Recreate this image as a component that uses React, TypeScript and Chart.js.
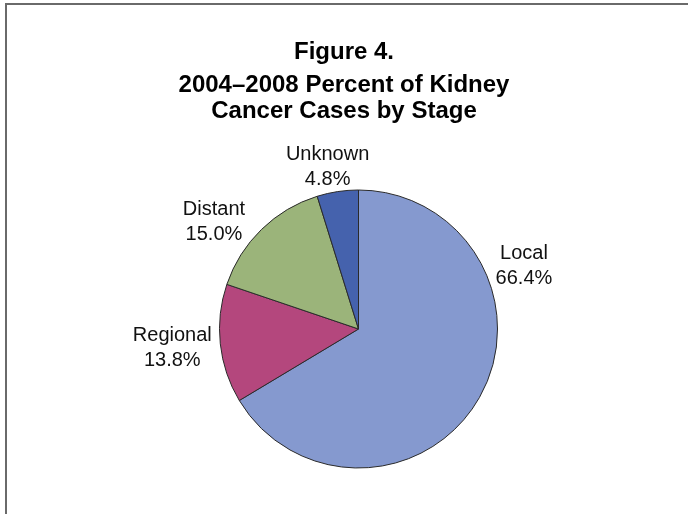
import React, { useEffect, useRef } from "react";
import { Chart, registerables } from "chart.js";

Chart.register(...registerables);

// ---- data ----
const categories = ["Local", "Regional", "Distant", "Unknown"];
const percentValues = [66.4, 13.8, 15.0, 4.8];
const titleLines = ["Figure 4.", "2004\u20132008 Percent of Kidney", "Cancer Cases by Stage"];

// ---- style / layout ----
const sliceColors = ["#8599CF", "#B4477D", "#9BB47A", "#4562AD"];
const labelOffsets: [number, number][] = [
  [44.5, -132],
  [-48, 3.7],
  [-47.5, -8],
  [-10, -24.5],
];
const titleCentersY = [52, 85, 111];
const FONT = "Arial, 'Liberation Sans', sans-serif";

const labelPlugin = {
  id: "sliceLabels",
  afterDatasetsDraw(chart: any) {
    const ctx = chart.ctx;
    const meta = chart.getDatasetMeta(0);
    ctx.save();
    ctx.font = `20px ${FONT}`;
    ctx.fillStyle = "#111";
    ctx.textAlign = "center";
    ctx.textBaseline = "middle";
    meta.data.forEach((arc: any, i: number) => {
      const p = arc.getProps(["x", "y", "startAngle", "endAngle", "outerRadius"], true);
      const mid = (p.startAngle + p.endAngle) / 2;
      const ex = p.x + Math.cos(mid) * p.outerRadius;
      const ey = p.y + Math.sin(mid) * p.outerRadius;
      const cx = ex + labelOffsets[i][0];
      const cy = ey + labelOffsets[i][1];
      ctx.fillText(categories[i], cx, cy - 12.5);
      ctx.fillText(percentValues[i].toFixed(1) + "%", cx, cy + 12.5);
    });
    ctx.restore();
  },
};

const titlePlugin = {
  id: "figTitle",
  afterDraw(chart: any) {
    const ctx = chart.ctx;
    ctx.save();
    ctx.font = `bold 24px ${FONT}`;
    ctx.fillStyle = "#000";
    ctx.textAlign = "center";
    ctx.textBaseline = "middle";
    titleLines.forEach((t, i) => ctx.fillText(t, chart.width / 2, titleCentersY[i]));
    ctx.restore();
  },
};

export default function App() {
  const ref = useRef<HTMLCanvasElement>(null);
  useEffect(() => {
    if (!ref.current) return;
    const chart = new Chart(ref.current, {
      type: "pie",
      data: {
        labels: categories,
        datasets: [
          {
            data: percentValues,
            backgroundColor: sliceColors,
            borderColor: "#2a2a2a",
            borderWidth: 1,
          },
        ],
      },
      options: {
        responsive: false,
        animation: false,
        radius: 139,
        layout: { padding: { left: 29, right: 0, top: 144, bottom: 0 } },
        plugins: {
          legend: { display: false },
          tooltip: { enabled: false },
          title: { display: false },
        },
      } as any,
      plugins: [labelPlugin, titlePlugin],
    });
    return () => chart.destroy();
  }, []);

  return (
    <div style={{ position: "fixed", left: 0, top: 0, width: 688, height: 514, background: "#fff", overflow: "hidden" }}>
      <canvas ref={ref} width={688} height={514} style={{ position: "absolute", left: 0, top: 0 }} />
      <div
        style={{
          position: "absolute",
          left: 5,
          top: 3,
          width: 800,
          height: 800,
          borderTop: "2px solid #6a6a6a",
          borderLeft: "2px solid #6a6a6a",
          pointerEvents: "none",
        }}
      />
    </div>
  );
}
